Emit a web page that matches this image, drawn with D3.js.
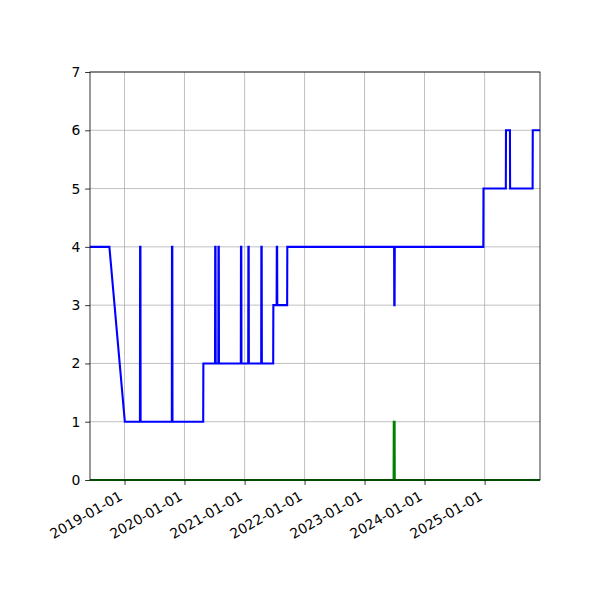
<!DOCTYPE html>
<meta charset="utf-8">
<style>
body { margin: 0; background: white; }
text { font-family: 'DejaVu Sans', sans-serif; }
</style>
<body>
<div id="chart"></div>
<script src="https://d3js.org/d3.v7.min.js"></script>
<script>

// blue series: change points (date, value)
var blueDates = [
  "2018-06-05", "2018-10-01", "2019-01-03", "2019-04-05", "2019-04-06", "2019-04-08", "2019-04-09",
  "2019-10-16", "2019-10-17", "2019-10-19", "2019-10-20", "2020-04-24", "2020-04-25",
  "2020-07-05", "2020-07-06", "2020-07-08", "2020-07-09", "2020-07-25", "2020-07-26", "2020-07-28", "2020-07-29",
  "2020-12-09", "2020-12-10", "2020-12-12", "2020-12-13", "2021-01-23", "2021-01-24", "2021-01-26", "2021-01-27",
  "2021-04-12", "2021-04-13", "2021-04-15", "2021-04-16", "2021-06-24", "2021-06-25",
  "2021-07-15", "2021-07-16", "2021-07-18", "2021-07-19", "2021-09-17", "2021-09-18",
  "2023-06-30", "2023-07-01", "2023-07-03", "2023-07-04", "2024-12-24", "2024-12-25",
  "2025-05-10", "2025-05-11", "2025-06-04", "2025-06-05", "2025-10-20", "2025-10-21",
  "2025-12-04"
];
var blueValues = [
  4, 4, 1, 1, 4, 4, 1,
  1, 4, 4, 1, 1, 2,
  2, 4, 4, 2, 2, 4, 4, 2,
  2, 4, 4, 2, 2, 4, 4, 2,
  2, 4, 4, 2, 2, 3,
  3, 4, 4, 3, 3, 4,
  4, 3, 3, 4, 4, 5,
  5, 6, 6, 5, 5, 6,
  6
];

// green series
var greenDates = ["2018-06-05", "2023-06-27", "2023-06-28", "2023-07-03", "2023-07-04", "2025-12-04"];
var greenValues = [0, 0, 1, 1, 0, 0];

var xTicks = ["2019-01-01", "2020-01-01", "2021-01-01", "2022-01-01", "2023-01-01", "2024-01-01", "2025-01-01"];
var yTicks = [0, 1, 2, 3, 4, 5, 6, 7];

var parse = d3.utcParse("%Y-%m-%d");
var fmt = d3.utcFormat("%Y-%m-%d");

var margin = { top: 72, right: 60, bottom: 120, left: 90 };
var width = 600 - margin.left - margin.right;
var height = 600 - margin.top - margin.bottom;

var svg = d3.select("#chart").append("svg")
  .attr("width", 600)
  .attr("height", 600);

var g = svg.append("g")
  .attr("transform", "translate(" + margin.left + "," + margin.top + ")");

var x = d3.scaleUtc()
  .domain([parse(blueDates[0]), parse(blueDates[blueDates.length - 1])])
  .range([0, width]);

var y = d3.scaleLinear()
  .domain([0, 7])
  .range([height, 0]);

// grid
g.append("g").selectAll("line")
  .data(xTicks)
  .enter().append("line")
    .attr("x1", function(d) { return x(parse(d)); })
    .attr("x2", function(d) { return x(parse(d)); })
    .attr("y1", 0)
    .attr("y2", height)
    .attr("stroke", "#b0b0b0")
    .attr("stroke-width", 0.8);

g.append("g").selectAll("line")
  .data(yTicks)
  .enter().append("line")
    .attr("x1", 0)
    .attr("x2", width)
    .attr("y1", function(d) { return y(d); })
    .attr("y2", function(d) { return y(d); })
    .attr("stroke", "#b0b0b0")
    .attr("stroke-width", 0.8);

svg.append("defs").append("clipPath")
  .attr("id", "clip")
  .append("rect")
    .attr("x", 0).attr("y", -2)
    .attr("width", width).attr("height", height + 4);

var line = d3.line()
  .x(function(d) { return x(d[0]); })
  .y(function(d) { return y(d[1]); });

var blue = blueDates.map(function(d, i) { return [parse(d), blueValues[i]]; });
var green = greenDates.map(function(d, i) { return [parse(d), greenValues[i]]; });

var lines = g.append("g").attr("clip-path", "url(#clip)");

lines.append("path")
  .datum(blue)
  .attr("d", line)
  .attr("fill", "none")
  .attr("stroke", "#0000ff")
  .attr("stroke-width", 2.08)
  .attr("stroke-linejoin", "miter");

lines.append("path")
  .datum(green)
  .attr("d", line)
  .attr("fill", "none")
  .attr("stroke", "#008000")
  .attr("stroke-width", 2.08);

// axes
var xAxis = g.append("g")
  .attr("transform", "translate(0," + height + ")")
  .call(d3.axisBottom(x)
    .tickValues(xTicks.map(parse))
    .tickFormat(fmt)
    .tickSize(4.86)
    .tickPadding(4.86));

xAxis.selectAll("text")
  .style("font-size", "13.9px")
  .attr("fill", "black")
  .attr("text-anchor", "end")
  .attr("y", 0)
  .attr("dy", 0)
  .attr("transform", "translate(-1.6,19) rotate(-30)");

var yAxis = g.append("g")
  .call(d3.axisLeft(y)
    .tickValues(yTicks)
    .tickFormat(d3.format("d"))
    .tickSize(4.86)
    .tickPadding(4.86));

yAxis.selectAll("text")
  .style("font-size", "13.9px")
  .attr("fill", "black");

g.selectAll(".domain").remove();
g.selectAll(".tick line").attr("stroke", "black").attr("stroke-width", 0.8);

// frame
g.append("rect")
  .attr("x", 0).attr("y", 0)
  .attr("width", width).attr("height", height)
  .attr("fill", "none")
  .attr("stroke", "black")
  .attr("stroke-width", 0.8);

</script>
</body>
